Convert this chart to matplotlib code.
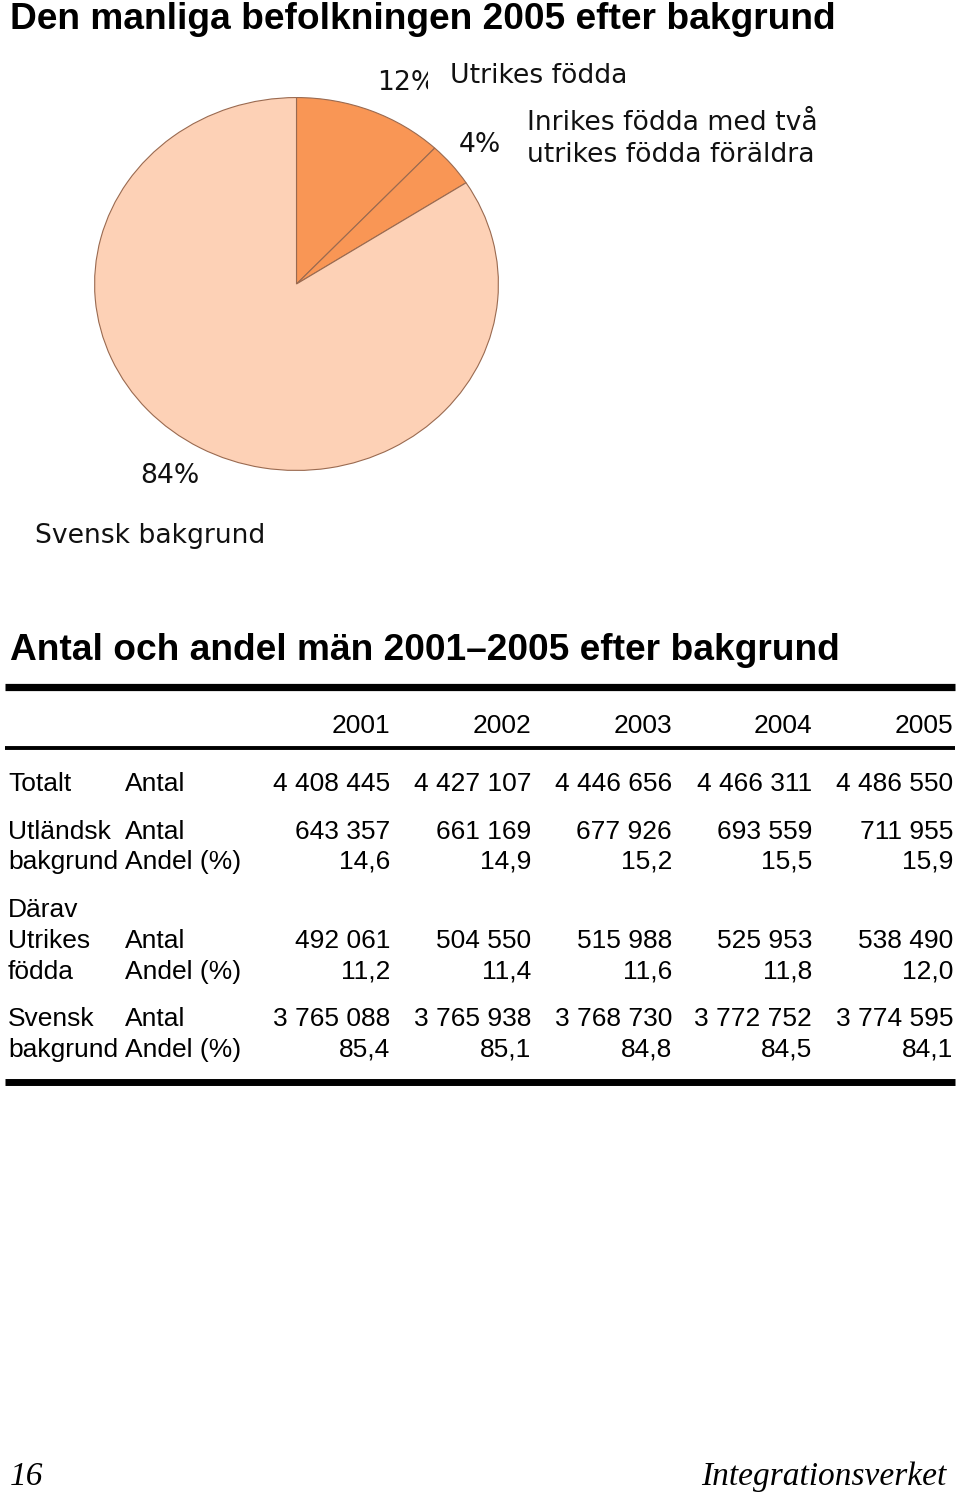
import matplotlib
matplotlib.use("Agg")
import matplotlib.pyplot as plt
from matplotlib.transforms import Bbox

# --- Daten -------------------------------------------------------------
pie_labels = ["Utrikes födda", "Inrikes födda med två\nutrikes födda föräldra", "Svensk bakgrund"]
pie_values = [538490, 173465, 3774595]
pie_pct = ["12%", "4%", "84%"]
pie_colors = ["#F99655", "#F99655", "#FDD1B6"]

years = [2001, 2002, 2003, 2004, 2005]
totalt_antal = [4408445, 4427107, 4446656, 4466311, 4486550]
utl_antal = [643357, 661169, 677926, 693559, 711955]
utl_andel = [14.6, 14.9, 15.2, 15.5, 15.9]
utr_antal = [492061, 504550, 515988, 525953, 538490]
utr_andel = [11.2, 11.4, 11.6, 11.8, 12.0]
sv_antal = [3765088, 3765938, 3768730, 3772752, 3774595]
sv_andel = [85.4, 85.1, 84.8, 84.5, 84.1]

W, H = 960, 1500
SANS = "Liberation Sans"


def fmt_int(v):
    return f"{v:,}".replace(",", " ")


def fmt_pct(v):
    return f"{v:.1f}".replace(".", ",")


fig = plt.figure(figsize=(W / 100, H / 100), dpi=100)
fig.patch.set_facecolor("white")

# Hintergrund-Achse in Pixelkoordinaten
bg = fig.add_axes([0, 0, 1, 1])
bg.set_xlim(0, W)
bg.set_ylim(H, 0)
bg.axis("off")

# Titel
bg.text(10, 29, "Den manliga befolkningen 2005 efter bakgrund", fontsize=26.7,
        fontweight="bold", family=SANS, va="baseline", ha="left")

# Kreisdiagramm (leicht gestreckt wie im Original)
px, py, pw, ph = 94, 97, 405, 374
pax = fig.add_axes([px / W, 1 - (py + ph) / H, pw / W, ph / H])
pax.pie(pie_values, colors=pie_colors, startangle=90, counterclock=False,
        wedgeprops=dict(edgecolor="#9A6A50", linewidth=0.8))
pax.set_aspect("auto")
pax.set_xlim(-1.003, 1.003)
pax.set_ylim(-1.003, 1.003)
pax.axis("off")

lab_font = dict(family="DejaVu Sans", fontsize=19.2, va="baseline", color="#111111")
# "12%" ist im Original rechts abgeschnitten
t12 = bg.text(377, 90, pie_pct[0], ha="left", **lab_font)
t12.set_clip_box(Bbox.from_extents(370, H - 100, 428, H - 60))
t12.set_clip_on(True)
bg.text(450, 83, pie_labels[0], ha="left", **lab_font)
bg.text(459, 152, pie_pct[1], ha="left", **lab_font)
l1, l2 = pie_labels[1].split("\n")
bg.text(527, 130, l1, ha="left", **lab_font)
bg.text(527, 162, l2, ha="left", **lab_font)
bg.text(140, 483, pie_pct[2], ha="left", **lab_font)
bg.text(35, 543, pie_labels[2], ha="left", **lab_font)

# Tabelle
bg.text(10, 660, "Antal och andel män 2001\u20132005 efter bakgrund", fontsize=26.7,
        fontweight="bold", family=SANS, va="baseline", ha="left")

bg.plot([5, 955], [686.5, 686.5], color="black", lw=5.2, solid_capstyle="butt")
bg.plot([5, 955], [748, 748], color="black", lw=2.8, solid_capstyle="butt")
bg.plot([5, 955], [1082, 1082], color="black", lw=5.0, solid_capstyle="butt")

col_x = [390, 531, 672, 812, 953]
tfont = dict(family=SANS, fontsize=19, va="baseline", color="black")

for x, yr in zip(col_x, years):
    bg.text(x, 733, str(yr), ha="right", **tfont)

rows = [
    (791, "Totalt", "Antal", [fmt_int(v) for v in totalt_antal]),
    (839, "Utländsk", "Antal", [fmt_int(v) for v in utl_antal]),
    (869, "bakgrund", "Andel (%)", [fmt_pct(v) for v in utl_andel]),
    (917, "Därav", "", None),
    (948, "Utrikes", "Antal", [fmt_int(v) for v in utr_antal]),
    (979, "födda", "Andel (%)", [fmt_pct(v) for v in utr_andel]),
    (1026, "Svensk", "Antal", [fmt_int(v) for v in sv_antal]),
    (1057, "bakgrund", "Andel (%)", [fmt_pct(v) for v in sv_andel]),
]
for y, c1, c2, vals in rows:
    bg.text(8, y, c1, ha="left", **tfont)
    if c2:
        bg.text(125, y, c2, ha="left", **tfont)
    if vals:
        for x, s in zip(col_x, vals):
            bg.text(x, y, s, ha="right", **tfont)

# Fusszeile
ffont = dict(family="Liberation Serif", style="italic", fontsize=24, va="baseline")
bg.text(10, 1485, "16", ha="left", **ffont)
bg.text(946, 1485, "Integrationsverket", ha="right", **ffont)

fig.savefig("out.png", dpi=100, facecolor="white")
